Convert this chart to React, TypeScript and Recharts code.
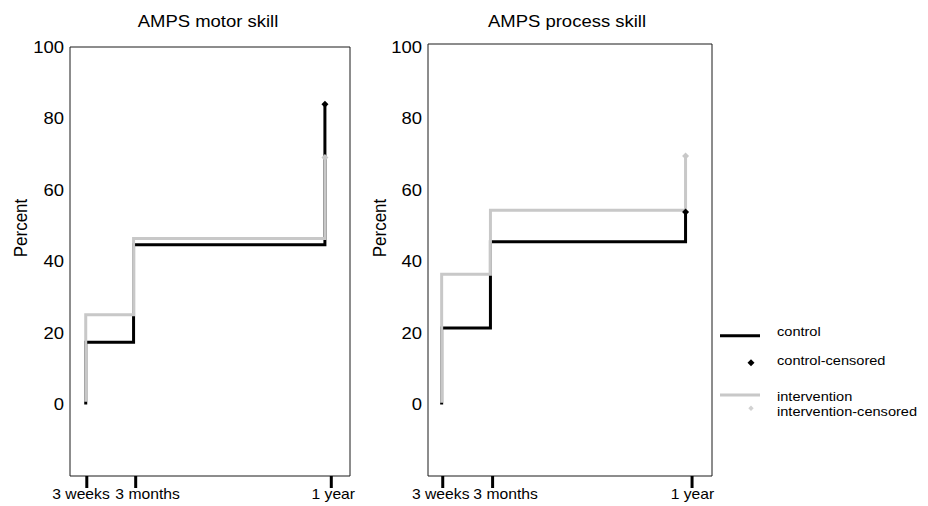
import React from "react";
import {
  ComposedChart,
  Line,
  Scatter,
  XAxis,
  YAxis,
  ReferenceArea,
} from "recharts";

// time in months, step points (Kaplan-Meier style)
const times = [0.75, 0.75, 3, 12];
const motorControl = [0, 17.4, 44.7, 84.0];
const motorIntervention = [0.8, 25.1, 46.4, 69.1];
const processControl = [0, 21.4, 45.5, 53.8];
const processIntervention = [0.5, 36.4, 54.3, 69.5];

const xTicks = [0.8, 3.1, 12.3];
const xTickLabels = ["3 weeks", "3 months", "1 year"];
const yTicks = [0, 20, 40, 60, 80, 100];

const legendItems = ["control", "control-censored", "intervention", "intervention-censored"];

const FONT = "'Liberation Sans', Arial, Helvetica, sans-serif";
const SX = 1.12;
const BLACK = "#000000";
const GREY = "#c8c8c8";

const toPoints = (vals: number[]) => vals.map((y, i) => ({ x: times[i], y }));
const lastPoint = (vals: number[]) => [{ x: times[times.length - 1], y: vals[vals.length - 1] }];

const diamond = (cx: number, cy: number, r: number) =>
  `${cx},${cy - r} ${cx + r},${cy} ${cx},${cy + r} ${cx - r},${cy}`;

function YTick(props: any) {
  const { x, y, payload } = props;
  return (
    <text
      x={x}
      y={y}
      dy="0.36em"
      textAnchor="end"
      fontSize={16.5}
      fontFamily={FONT}
      fill="#000"
      transform={`translate(${x} 0) scale(${SX} 1) translate(${-x} 0)`}
    >
      {payload.value}
    </text>
  );
}

function makeXTick(shift: number[]) {
  return function XTick(props: any) {
    const { x, y, index } = props;
    const cx = x + (shift[index] || 0);
    return (
      <text
        x={cx}
        y={y}
        dy="0.71em"
        textAnchor="middle"
        fontSize={14}
        fontFamily={FONT}
        fill="#000"
        transform={`translate(${cx} 0) scale(${SX} 1) translate(${-cx} 0)`}
      >
        {xTickLabels[index]}
      </text>
    );
  };
}

const Diamond = (color: string) => (p: any) =>
  <polygon points={diamond(p.cx, p.cy, 3.5)} fill={color} />;

type PanelProps = {
  title: string;
  control: number[];
  intervention: number[];
  left: number;
  top: number;
  rightMargin: number;
  xDomain: [number, number];
  yMax: number;
  shift: number[];
  titleX: number;
  labelX: number;
};

function Panel(p: PanelProps) {
  return (
    <>
      <div
        style={{
          position: "absolute",
          left: p.titleX,
          top: 12.7,
          fontSize: 16.5,
          lineHeight: 1,
          fontFamily: FONT,
          whiteSpace: "nowrap",
          transform: `translateX(-50%) scaleX(${SX})`,
        }}
      >
        {p.title}
      </div>
      <div
        style={{
          position: "absolute",
          left: p.labelX,
          top: 227.5,
          fontSize: 17,
          lineHeight: 1,
          fontFamily: FONT,
          whiteSpace: "nowrap",
          transform: `translate(-50%, -50%) scaleX(1.1) rotate(-90deg)`,
        }}
      >
        Percent
      </div>
      <div style={{ position: "absolute", left: p.left, top: 0 }}>
        <ComposedChart
          width={360}
          height={506}
          margin={{ top: p.top, right: p.rightMargin, bottom: 0, left: 0 }}
        >
          <XAxis
            type="number"
            dataKey="x"
            domain={p.xDomain}
            allowDataOverflow
            ticks={xTicks}
            axisLine={false}
            tickLine={{ stroke: BLACK, strokeWidth: 3 }}
            tickSize={12}
            tickMargin={1}
            height={30}
            tick={makeXTick(p.shift)}
            interval={0}
          />
          <YAxis
            type="number"
            domain={[-20, p.yMax]}
            allowDataOverflow
            ticks={yTicks}
            axisLine={false}
            tickLine={false}
            tickSize={4}
            width={70}
            tick={<YTick />}
            interval={0}
          />
          <ReferenceArea
            x1={p.xDomain[0]}
            x2={p.xDomain[1]}
            y1={-20}
            y2={p.yMax}
            fill="none"
            stroke="#1a1a1a"
            strokeWidth={1}
            fillOpacity={0}
            strokeOpacity={1}
          />
          <Line
            data={toPoints(p.control)}
            dataKey="y"
            type="stepAfter"
            stroke={BLACK}
            strokeWidth={3}
            dot={false}
            activeDot={false}
            isAnimationActive={false}
          />
          <Line
            data={toPoints(p.intervention)}
            dataKey="y"
            type="stepAfter"
            stroke={GREY}
            strokeWidth={3}
            dot={false}
            activeDot={false}
            isAnimationActive={false}
          />
          <Scatter
            data={lastPoint(p.control)}
            dataKey="y"
            shape={Diamond(BLACK)}
            isAnimationActive={false}
          />
          <Scatter
            data={lastPoint(p.intervention)}
            dataKey="y"
            shape={Diamond(GREY)}
            isAnimationActive={false}
          />
        </ComposedChart>
      </div>
    </>
  );
}

function LegendBox() {
  const textTops = [325.2, 353.5, 390.2, 404.6];
  return (
    <>
      <svg style={{ position: "absolute", left: 700, top: 320 }} width={70} height={100}>
        <line x1={20} x2={60} y1={15.7} y2={15.7} stroke={BLACK} strokeWidth={3} />
        <polygon points={diamond(51, 42.7, 3.5)} fill={BLACK} />
        <line x1={20} x2={60} y1={75} y2={75} stroke={GREY} strokeWidth={3} />
        <polygon points={diamond(51, 88.3, 2.7)} fill="#d2d2d2" />
      </svg>
      {legendItems.map((t, i) => (
        <div
          key={t}
          style={{
            position: "absolute",
            left: 777,
            top: textTops[i],
            fontSize: 13,
            lineHeight: 1,
            fontFamily: FONT,
            whiteSpace: "nowrap",
            transformOrigin: "0 0",
            transform: `scaleX(1.12)`,
          }}
        >
          {t}
        </div>
      ))}
    </>
  );
}

export default function App() {
  return (
    <div style={{ position: "relative", width: 928, height: 506, background: "#fff", overflow: "hidden" }}>
      <style>{"body{margin:0}"}</style>
      <Panel
        title="AMPS motor skill"
        control={motorControl}
        intervention={motorIntervention}
        left={0}
        top={47}
        rightMargin={10}
        xDomain={[0.01, 13.18]}
        yMax={100}
        shift={[-5.8, 11.9, 2]}
        titleX={207.5}
        labelX={21}
      />
      <Panel
        title="AMPS process skill"
        control={processControl}
        intervention={processIntervention}
        left={358}
        top={44}
        rightMargin={6}
        xDomain={[0.12, 13.22]}
        yMax={100.8}
        shift={[-2, 13, 0.4]}
        titleX={566.7}
        labelX={380}
      />
      <LegendBox />
    </div>
  );
}
